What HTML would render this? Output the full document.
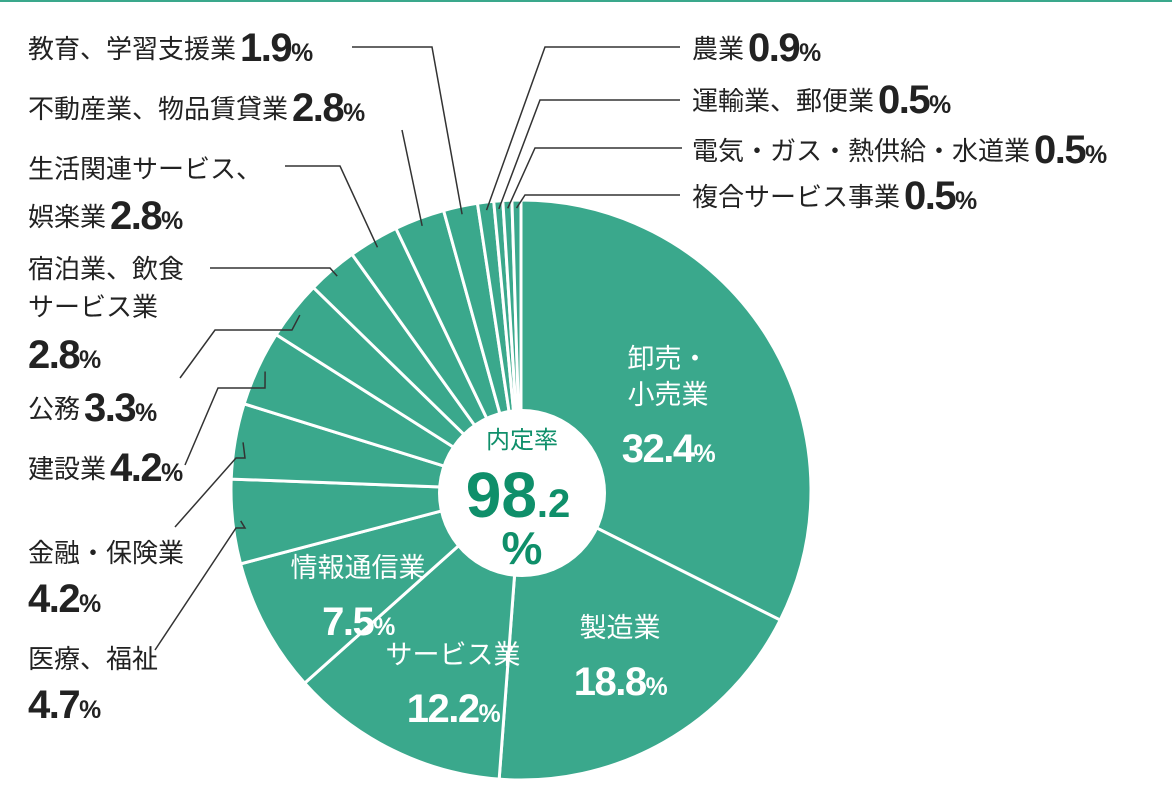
<!DOCTYPE html>
<html><head><meta charset="utf-8"><style>
body{margin:0;background:#fff;}
svg{display:block;font-family:"Liberation Sans","Noto Sans CJK JP",sans-serif;}
.n{font-family:"Liberation Sans Narrow","Liberation Sans","Noto Sans CJK JP",sans-serif;letter-spacing:-1.5px;font-weight:bold;}
</style></head><body>
<svg id="chart" width="1172" height="810" viewBox="0 0 1172 810">
<rect x="0" y="0" width="1172" height="2" fill="#3aa88c"/>
<g id="slices"></g>
<g id="leaders" stroke="#333" stroke-width="1.5" fill="none"></g>
<circle cx="522" cy="493" r="84" fill="#fff"/>
<text x="522" y="448" text-anchor="middle" font-size="24" fill="#0f8f6a">内定率</text>
<text x="518" y="517" text-anchor="middle" font-size="64" font-weight="bold" fill="#0f8f6a">98<tspan font-size="40">.2</tspan></text>
<text x="522" y="564" text-anchor="middle" font-size="46" font-weight="bold" fill="#0f8f6a">%</text>
<g id="labels"></g>
</svg>
<script>
const categories=["卸売・小売業","製造業","サービス業","情報通信業","医療、福祉","金融・保険業","建設業","公務","宿泊業、飲食サービス業","生活関連サービス、娯楽業","不動産業、物品賃貸業","教育、学習支援業","農業","運輸業、郵便業","電気・ガス・熱供給・水道業","複合サービス事業"];
const values=[32.4,18.8,12.2,7.5,4.7,4.2,4.2,3.3,2.8,2.8,2.8,1.9,0.9,0.5,0.5,0.5];
const valueLabels=["32.4","18.8","12.2","7.5","4.7","4.2","4.2","3.3","2.8","2.8","2.8","1.9","0.9","0.5","0.5","0.5"];
const NS="http://www.w3.org/2000/svg";
const cx=521,cy=490,R=290;
const total=values.reduce((a,b)=>a+b,0);
function pt(frac,r){const a=frac*2*Math.PI;return [cx+r*Math.sin(a),cy-r*Math.cos(a)];}
const sg=document.getElementById('slices');
let acc=0;const mids=[];
values.forEach((v,i)=>{
 const f0=acc/total,f1=(acc+v)/total;acc+=v;mids.push((f0+f1)/2);
 const p0=pt(f0,R),p1=pt(f1,R);const large=(f1-f0)>0.5?1:0;
 const p=document.createElementNS(NS,'path');
 p.setAttribute('d',`M${cx},${cy}L${p0[0]},${p0[1]}A${R},${R} 0 ${large} 1 ${p1[0]},${p1[1]}Z`);
 p.setAttribute('fill','#3aa88c');p.setAttribute('stroke','#fff');p.setAttribute('stroke-width','3');
 
 
 sg.appendChild(p);
});
const inside=[[0,668,368,["卸売・","小売業"]],[1,620,637,["製造業"]],[2,453,664,["サービス業"]],[3,358,577,["情報通信業"]]];
const lg=document.getElementById('labels');
function txt(x,y,s,size,fill,cls,anchor,name){
 const t=document.createElementNS(NS,'text');t.setAttribute('x',x);t.setAttribute('y',y);
 t.setAttribute('font-size',size);t.setAttribute('fill',fill);if(cls)t.setAttribute('class',cls);
 if(anchor)t.setAttribute('text-anchor',anchor);t.textContent=s;
 
 
 lg.appendChild(t);return t;}
function valTxt(x,y,i,fill,size,anchor,name){
 const t=txt(x,y,valueLabels[i],size,fill,'n',anchor,name);
 const s=document.createElementNS(NS,'tspan');s.setAttribute('font-size',size*0.62);s.textContent='%';t.appendChild(s);return t;}
inside.forEach(([i,x,y,lines])=>{
 lines.forEach((l,k)=>txt(x,y+k*36,l,27,'#fff',null,'middle','slice-label-'+i));
 valTxt(x,y+lines.length*36+22,i,'#fff',40,'middle','slice-value-'+i);
});
const outside=[
 [11,[["教育、学習支援業",28,58]],null,[[352,47],[432,47]]],
 [10,[["不動産業、物品賃貸業",28,118]],null,[[402,130]]],
 [9,[["生活関連サービス、",28,178],["娯楽業",28,226]],null,[[285,166],[340,166]]],
 [8,[["宿泊業、飲食",28,278],["サービス業",28,316]],[28,368],[[210,268],[330,268]]],
 [7,[["公務",28,418]],null,[[180,378],[215,330],[292,330]]],
 [6,[["建設業",28,478]],null,[[185,465],[218,388],[265,388]]],
 [5,[["金融・保険業",28,562]],[28,612],[[175,527],[236,458],[245,458]]],
 [4,[["医療、福祉",28,668]],[28,718],[[155,650],[236,528],[245,528]]],
 [12,[["農業",692,58]],null,[[680,47],[545,47]]],
 [13,[["運輸業、郵便業",692,110]],null,[[680,100],[540,100]]],
 [14,[["電気・ガス・熱供給・水道業",692,160]],null,[[682,148],[535,148]]],
 [15,[["複合サービス事業",692,206]],null,[[680,195],[525,195]]]
];
const ld=document.getElementById('leaders');
outside.forEach(([i,lines,vp,pts])=>{
 let last=null;
 lines.forEach(([s,x,y])=>{last=txt(x,y,s,26,'#222',null,null,'label-'+i);});
 let vx,vy;
 if(vp){vx=vp[0];vy=vp[1];}
 else{vx=+last.getAttribute('x')+last.getComputedTextLength()+4;vy=+last.getAttribute('y')+3;}
 valTxt(vx,vy,i,'#222',40,null,'value-'+i);
 const e=pt(mids[i],R-8);
 const all=pts.concat([e]);
 const pl=document.createElementNS(NS,'polyline');
 pl.setAttribute('points',all.map(p=>p.join(',')).join(' '));
 
 
 ld.appendChild(pl);
});
</script>
</body></html>
